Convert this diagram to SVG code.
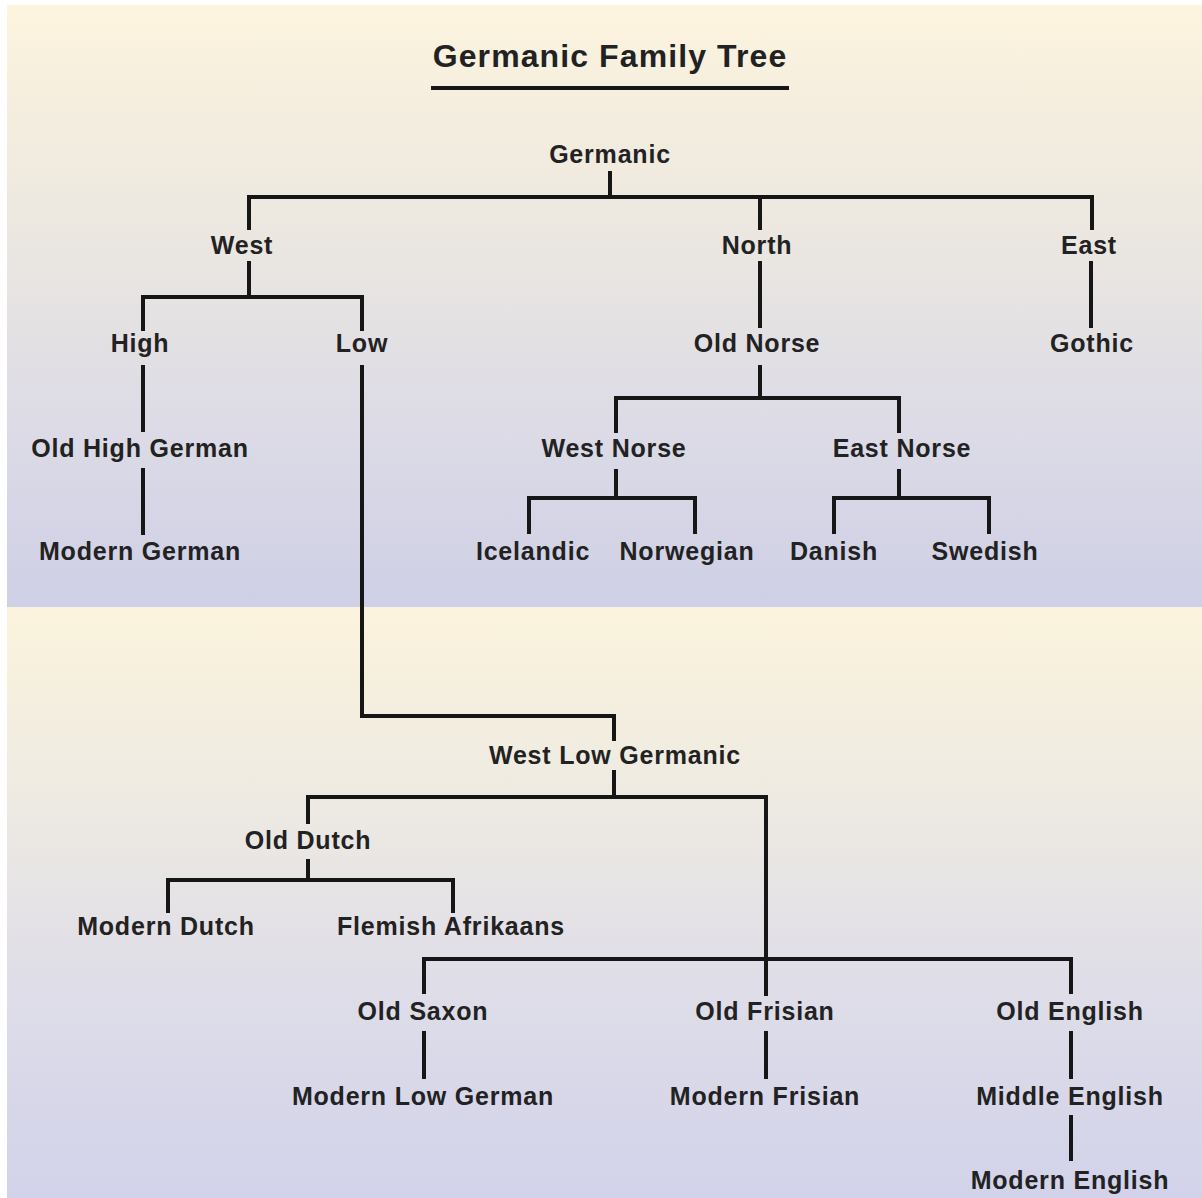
<svg xmlns="http://www.w3.org/2000/svg" width="1202" height="1198" viewBox="0 0 1202 1198">
<defs>
<linearGradient id="bgTop" x1="0" y1="0" x2="0" y2="1">
<stop offset="0" stop-color="#fcf4de"/>
<stop offset="0.35" stop-color="#ede8e0"/>
<stop offset="0.7" stop-color="#dcdbe6"/>
<stop offset="1" stop-color="#cfcfe6"/>
</linearGradient>
<linearGradient id="bgBot" x1="0" y1="0" x2="0" y2="1">
<stop offset="0" stop-color="#fbf3dc"/>
<stop offset="0.3" stop-color="#efebe2"/>
<stop offset="0.65" stop-color="#dedde8"/>
<stop offset="1" stop-color="#d2d2ea"/>
</linearGradient>
</defs>
<style>
text{font-family:"Liberation Sans",Arial,sans-serif;font-weight:bold;fill:#222;text-anchor:middle}
.n{font-size:25px;letter-spacing:0.8px}
.title{font-size:32px;letter-spacing:1.1px}
.c{fill:none;stroke:#161616;stroke-width:4;stroke-linecap:square;stroke-linejoin:miter}
</style>
<rect x="0" y="0" width="1202" height="1198" fill="#ffffff"/>
<rect x="7" y="5" width="1195" height="602" fill="url(#bgTop)"/>
<rect x="7" y="607" width="1195" height="591" fill="url(#bgBot)"/>
<g id="title">
<text class="title" x="610" y="67">Germanic Family Tree</text>
<line x1="431" y1="88" x2="789" y2="88" stroke="#161616" stroke-width="4"/>
</g>
<g id="connectors" class="c">
<path class="c" d="M610 173V197M249 228V197H1092V228M760 197V228"/>
<path class="c" d="M249 263V297M143 329V297H362V329"/>
<path class="c" d="M760 263V326M1091 263V326"/>
<path class="c" d="M143 367V430M143 470V533"/>
<path class="c" d="M362 367V716H614V739"/>
<path class="c" d="M760 367V398M616 431V398H899V431"/>
<path class="c" d="M616 471V498M529 532V498H695V532M899 471V498M834 532V498H989V532"/>
<path class="c" d="M614 772V797M308 822V797H766V994"/>
<path class="c" d="M308 861V880M168 911V880H453V911"/>
<path class="c" d="M424 992V959H1071V992"/>
<path class="c" d="M424 1033V1077M766 1033V1077M1071 1033V1077M1071 1117V1159"/>
</g>
<g id="germanic"><text class="n" x="610" y="163">Germanic</text></g>
<g id="west"><text class="n" x="242" y="254">West</text></g>
<g id="north"><text class="n" x="757" y="254">North</text></g>
<g id="east"><text class="n" x="1089" y="254">East</text></g>
<g id="high"><text class="n" x="140" y="352">High</text></g>
<g id="low"><text class="n" x="362" y="352">Low</text></g>
<g id="old-norse"><text class="n" x="757" y="352">Old Norse</text></g>
<g id="gothic"><text class="n" x="1092" y="352">Gothic</text></g>
<g id="old-high-german"><text class="n" x="140" y="457">Old High German</text></g>
<g id="west-norse"><text class="n" x="614" y="457">West Norse</text></g>
<g id="east-norse"><text class="n" x="902" y="457">East Norse</text></g>
<g id="modern-german"><text class="n" x="140" y="560">Modern German</text></g>
<g id="icelandic"><text class="n" x="533" y="560">Icelandic</text></g>
<g id="norwegian"><text class="n" x="687" y="560">Norwegian</text></g>
<g id="danish"><text class="n" x="834" y="560">Danish</text></g>
<g id="swedish"><text class="n" x="985" y="560">Swedish</text></g>
<g id="west-low-germanic"><text class="n" x="615" y="764">West Low Germanic</text></g>
<g id="old-dutch"><text class="n" x="308" y="849">Old Dutch</text></g>
<g id="modern-dutch"><text class="n" x="166" y="935">Modern Dutch</text></g>
<g id="flemish-afrikaans"><text class="n" x="451" y="935">Flemish Afrikaans</text></g>
<g id="old-saxon"><text class="n" x="423" y="1020">Old Saxon</text></g>
<g id="old-frisian"><text class="n" x="765" y="1020">Old Frisian</text></g>
<g id="old-english"><text class="n" x="1070" y="1020">Old English</text></g>
<g id="modern-low-german"><text class="n" x="423" y="1105">Modern Low German</text></g>
<g id="modern-frisian"><text class="n" x="765" y="1105">Modern Frisian</text></g>
<g id="middle-english"><text class="n" x="1070" y="1105">Middle English</text></g>
<g id="modern-english"><text class="n" x="1070" y="1189">Modern English</text></g>
</svg>
